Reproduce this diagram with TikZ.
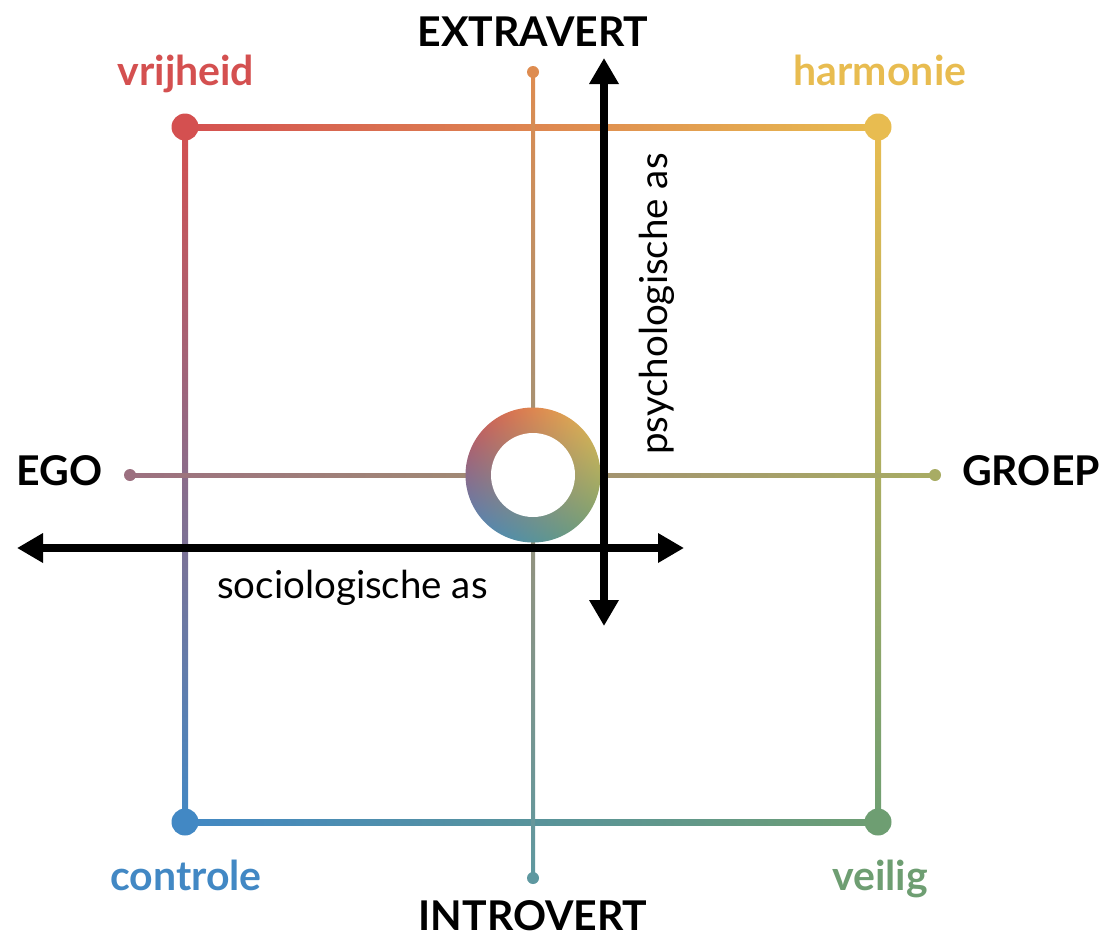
\documentclass[tikz,border=0pt]{standalone}
\usepackage{fontspec}
\setmainfont{Lato}
\usetikzlibrary{arrows.meta,shadings}
\definecolor{cred}{HTML}{D45050}
\definecolor{cyellow}{HTML}{E8BC50}
\definecolor{cblue}{HTML}{4288C4}
\definecolor{cgreen}{HTML}{6E9E72}
\definecolor{corange}{HTML}{DE8C50}
\definecolor{cteal}{HTML}{5E98A0}
\definecolor{cmauve}{HTML}{9C7080}
\definecolor{colive}{HTML}{A8AC64}
\tikzset{
  pole/.style={font=\fontsize{41}{44}\selectfont\bfseries,anchor=base,inner sep=0pt},
  axislabel/.style={font=\fontsize{38.5}{42}\selectfont,anchor=base,inner sep=0pt},
  bigarrow/.style={line width=8pt,{Triangle[width=28pt,length=26pt]}-{Triangle[width=28pt,length=26pt]}}
}
\begin{document}
\begin{tikzpicture}[x=1pt,y=-1pt]
\useasboundingbox (0,0) rectangle (1103,940);
% corners of the square and ends of the cross
\coordinate (vr) at (185,127);
\coordinate (ha) at (878,127);
\coordinate (co) at (185,822);
\coordinate (ve) at (878,822);
\coordinate (ex) at (533,72);
\coordinate (in) at (533,878);
\coordinate (eg) at (130,475);
\coordinate (gr) at (935,475);
\coordinate (mid) at (533,475);
% square
\shade[left color=cred,right color=cyellow] ([yshift=3pt]vr) rectangle ([yshift=-3pt]ha);
\shade[left color=cblue,right color=cgreen] ([yshift=3pt]co) rectangle ([yshift=-3pt]ve);
\shade[top color=cred,bottom color=cblue] ([xshift=-3pt]vr) rectangle ([xshift=3pt]co);
\shade[top color=cyellow,bottom color=cgreen] ([xshift=-3pt]ha) rectangle ([xshift=3pt]ve);
% cross
\shade[top color=corange,bottom color=cteal] ([xshift=-2pt]ex) rectangle ([xshift=2pt]in);
\shade[left color=cmauve,right color=colive] ([yshift=2pt]eg) rectangle ([yshift=-2pt]gr);
\fill[cred] (vr) circle [radius=13.5pt];
\fill[cyellow] (ha) circle [radius=13.5pt];
\fill[cblue] (co) circle [radius=13.5pt];
\fill[cgreen] (ve) circle [radius=13.5pt];
\fill[corange] (ex) circle [radius=6pt];
\fill[cteal] (in) circle [radius=6pt];
\fill[cmauve] (eg) circle [radius=6pt];
\fill[colive] (gr) circle [radius=6pt];
% ring
\shade[upper left=cred,upper right=cyellow,lower left=cblue,lower right=cgreen] (mid) circle [radius=67.5pt];
\fill[white] (mid) circle [radius=42pt];
% axes
\coordinate (sl) at (17,548);
\coordinate (sr) at (684,548);
\coordinate (pt) at (604,58);
\coordinate (pb) at (604,626);
\draw[bigarrow] (sl) -- (sr);
\draw[bigarrow] (pb) -- (pt);
\node[axislabel,anchor=base west] (soc) at (217,598) {sociologische as};
\node[axislabel,anchor=base west,rotate=90] (psy) at (667,455) {psychologische as};
% labels
\node[pole] (extra) at (533,46) {EXTRAVERT};
\node[pole] (intro) at (533,930) {INTROVERT};
\node[pole,anchor=base east] (ego) at (103,485) {EGO};
\node[pole,anchor=base west] (groep) at (962,485) {GROEP};
\node[pole,text=cred] (vrij) at (186,85) {vrijheid};
\node[pole,text=cyellow] (harm) at (880,85) {harmonie};
\node[pole,text=cblue] (contr) at (186,890) {controle};
\node[pole,text=cgreen] (veil) at (880,890) {veilig};
\end{tikzpicture}
\end{document}
